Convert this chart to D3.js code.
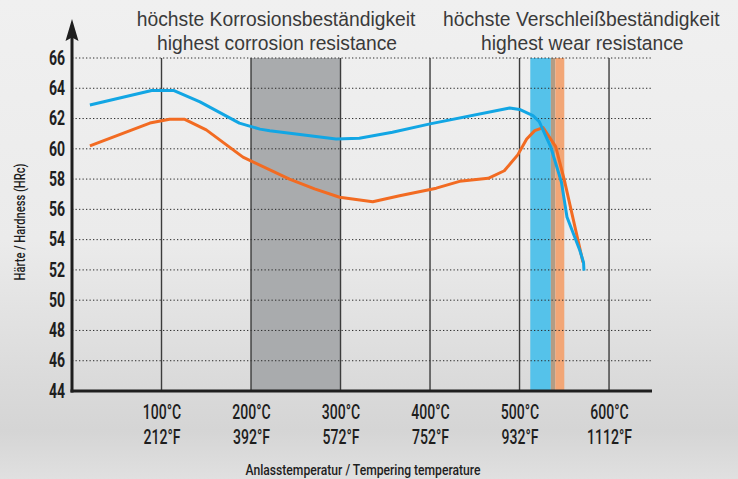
<!DOCTYPE html>
<html>
<head>
<meta charset="utf-8">
<script src="https://cdn.jsdelivr.net/npm/d3@7"></script>
<style>
  html, body { margin: 0; padding: 0; }
  svg { display: block; }
</style>
</head>
<body>
<div id="chart"></div>
<script>
// chart size
let width = 738, height = 479;

// DATA
let hardnessTicks = [44, 46, 48, 50, 52, 54, 56, 58, 60, 62, 64, 66];
let tempTicksC = [100, 200, 300, 400, 500, 600];
let tempTicksF = ["212°F", "392°F", "572°F", "752°F", "932°F", "1112°F"];

// blue steel curve
let blueTemp = [20, 89, 114, 143, 187, 210, 221, 295, 321, 358, 400, 489, 500, 515, 522, 534.7, 546.8, 553, 567.3, 571.5, 572];
let blueHard = [62.9, 63.85, 63.85, 63.1, 61.7, 61.3, 61.2, 60.65, 60.7, 61.1, 61.65, 62.7, 62.6, 62.2, 61.8, 60.15, 57.8, 55.5, 53.3, 52.5, 51.95];

// orange steel curve
let orangeTemp = [20, 87, 109, 126, 150, 191, 243, 271, 299, 336, 366, 407, 433, 465, 483, 498, 508, 517, 526.3, 540.4, 550, 570.9];
let orangeHard = [60.2, 61.7, 61.95, 61.95, 61.25, 59.45, 58.0, 57.35, 56.8, 56.5, 56.9, 57.4, 57.85, 58.05, 58.55, 59.6, 60.65, 61.2, 61.4, 60.15, 57.95, 52.5];

// shaded temperature ranges
let bandFrom = [200, 512, 535, 540];
let bandTo = [300, 535, 540, 550];
let bandColor = ["#a9abad", "#55c2ea", "#b39c84", "#f2a676"];

// headline texts, centred over these temperatures
let headDe = ["höchste Korrosionsbeständigkeit", "höchste Verschleißbeständigkeit"];
let headEn = ["highest corrosion resistance", "highest wear resistance"];
let headAt = [228, 569];

let cond = "Roboto, 'DejaVu Sans', sans-serif";
let squeeze = "scale(0.72,1)";

let svg = d3.select("#chart").append("svg")
  .attr("width", width)
  .attr("height", height);

// brushed metal background
let grad = svg.append("defs").append("linearGradient")
  .attr("id", "bg").attr("x1", 0).attr("y1", 0).attr("x2", 0).attr("y2", 1);
[[0, "#f0f0f0"], [0.5, "#ebebeb"], [0.8, "#dadada"], [0.9, "#d5d5d5"], [1, "#e0e0e0"]]
  .forEach(s => grad.append("stop").attr("offset", s[0]).attr("stop-color", s[1]));
svg.append("rect").attr("width", width).attr("height", height).attr("fill", "url(#bg)");

// SCALES
let x = d3.scaleLinear().domain([0, 648]).range([72, 652]);
let y = d3.scaleLinear().domain([44, 66]).range([391, 58]);

// bands
svg.selectAll("rect.band")
  .data(bandFrom)
  .enter().append("rect").classed("band", true)
  .attr("x", (d, i) => x(d))
  .attr("width", (d, i) => x(bandTo[i]) - x(d))
  .attr("y", y(66))
  .attr("height", y(44) - y(66))
  .attr("fill", (d, i) => bandColor[i]);

// dotted horizontal grid
svg.selectAll("line.grid")
  .data(hardnessTicks.filter(d => d > 44))
  .enter().append("line").classed("grid", true)
  .attr("x1", x(0)).attr("x2", x(648))
  .attr("y1", d => y(d)).attr("y2", d => y(d))
  .attr("stroke", "#2a2a2a")
  .attr("stroke-width", 1)
  .attr("stroke-dasharray", "1.3,2.2");

// vertical lines at every 100 °C
svg.selectAll("line.vline")
  .data(tempTicksC)
  .enter().append("line").classed("vline", true)
  .attr("x1", d => x(d)).attr("x2", d => x(d))
  .attr("y1", y(66)).attr("y2", y(44))
  .attr("stroke", "#3c3c3c")
  .attr("stroke-width", 1.4);

// CURVES
let line = d3.line().x(d => x(d[0])).y(d => y(d[1]));

svg.append("path")
  .datum(orangeTemp.map((t, i) => [t, orangeHard[i]]))
  .attr("d", line)
  .attr("fill", "none")
  .attr("stroke", "#f26b22")
  .attr("stroke-width", 3)
  .attr("stroke-linejoin", "round");

svg.append("path")
  .datum(blueTemp.map((t, i) => [t, blueHard[i]]))
  .attr("d", line)
  .attr("fill", "none")
  .attr("stroke", "#12a6e4")
  .attr("stroke-width", 3)
  .attr("stroke-linejoin", "round");

// AXES
svg.append("line")
  .attr("x1", x(0)).attr("x2", x(0))
  .attr("y1", y(44) + 1.5).attr("y2", 36)
  .attr("stroke", "#1e1e1e").attr("stroke-width", 3);
svg.append("path")
  .attr("d", "M72,19 L78.5,41 L72,37.5 L65.5,41 Z")
  .attr("fill", "#1e1e1e");
svg.append("line")
  .attr("x1", x(0) - 1.5).attr("x2", x(648))
  .attr("y1", y(44)).attr("y2", y(44))
  .attr("stroke", "#1e1e1e").attr("stroke-width", 3);

let yAxis = svg.append("g")
  .attr("transform", "translate(" + (x(0) - 7) + ",0)")
  .call(d3.axisLeft(y).tickValues(hardnessTicks).tickSize(0).tickPadding(0));
yAxis.select(".domain").remove();
yAxis.selectAll("text")
  .attr("transform", squeeze)
  .attr("font-family", cond)
  .attr("font-weight", "bold")
  .attr("font-size", 19.5)
  .attr("fill", "#1e1e1e");

let xAxis = svg.append("g")
  .attr("transform", "translate(0," + y(44) + ")")
  .call(d3.axisBottom(x).tickValues(tempTicksC).tickSize(0).tickPadding(0)
    .tickFormat(d => d + "°C"));
xAxis.select(".domain").remove();
xAxis.selectAll("text")
  .attr("y", 28)
  .attr("dy", 0)
  .attr("transform", squeeze)
  .attr("font-family", cond)
  .attr("font-weight", 500)
  .attr("font-size", 19.5)
  .attr("fill", "#1e1e1e");
xAxis.selectAll(".tick").append("text")
  .text((d, i) => tempTicksF[i])
  .attr("y", 53)
  .attr("transform", squeeze)
  .attr("text-anchor", "middle")
  .attr("font-family", cond)
  .attr("font-weight", 500)
  .attr("font-size", 19.5)
  .attr("fill", "#1e1e1e");

// axis titles
svg.append("text")
  .attr("transform", "translate(363,475) " + "scale(0.82,1)")
  .attr("text-anchor", "middle")
  .attr("font-family", cond)
  .attr("font-weight", 500)
  .attr("font-size", 14.8)
  .attr("fill", "#1e1e1e")
  .text("Anlasstemperatur / Tempering temperature");

svg.append("text")
  .attr("transform", "translate(25,222) rotate(-90) scale(0.8,1)")
  .attr("text-anchor", "middle")
  .attr("font-family", cond)
  .attr("font-weight", 500)
  .attr("font-size", 14)
  .attr("fill", "#1e1e1e")
  .text("Härte / Hardness (HRc)");

// headlines above the shaded ranges
let heads = svg.selectAll("g.head")
  .data(headAt)
  .enter().append("g").classed("head", true);
heads.append("text")
  .attr("x", d => x(d))
  .attr("y", 26)
  .attr("text-anchor", "middle")
  .attr("font-family", "'Liberation Sans', Arial, sans-serif")
  .attr("font-size", 19.3)
  .attr("fill", "#3a3a3a")
  .text((d, i) => headDe[i]);
heads.append("text")
  .attr("x", d => x(d) + 1)
  .attr("y", 50)
  .attr("text-anchor", "middle")
  .attr("font-family", "'Liberation Sans', Arial, sans-serif")
  .attr("font-size", 19.3)
  .attr("fill", "#3a3a3a")
  .text((d, i) => headEn[i]);
</script>
</body>
</html>
